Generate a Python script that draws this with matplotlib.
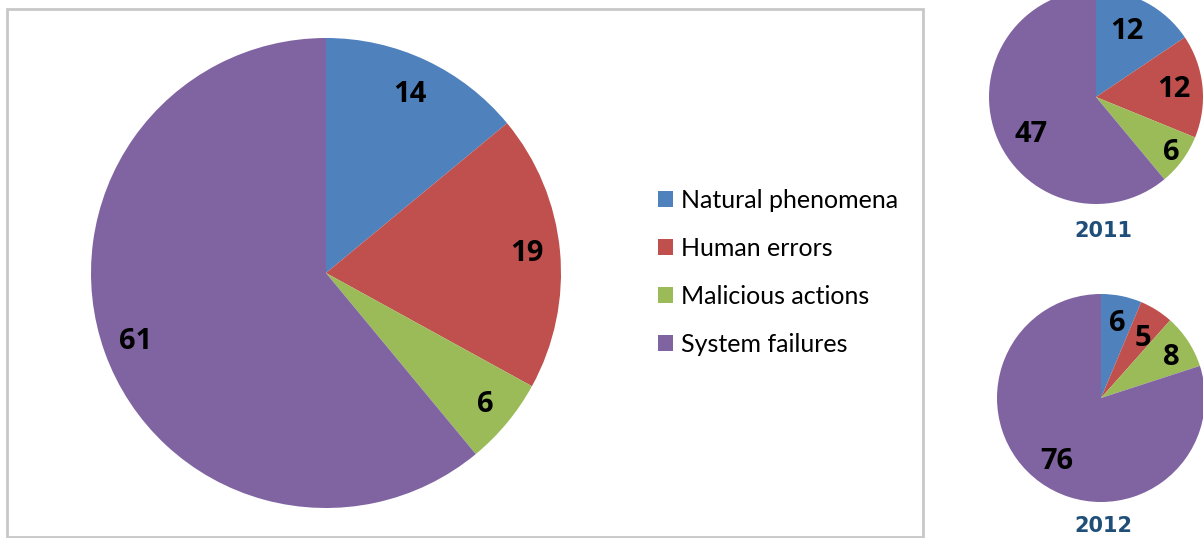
import numpy as np
import matplotlib
matplotlib.use('Agg')
import matplotlib.pyplot as plt
from matplotlib.patches import Rectangle

# データ
categories = ['Natural phenomena', 'Human errors', 'Malicious actions', 'System failures']
total_vals = [14, 19, 6, 61]
vals_2011 = [12, 12, 6, 47]
vals_2012 = [6, 5, 8, 76]
colors = ['#4F81BD', '#C0504D', '#9BBB59', '#8064A2']

W, H = 1203, 538
fig = plt.figure(figsize=(W / 100, H / 100), dpi=100)


def px_axes(cx, cy, r):
    # 画素座標(中心, 半径)からaxesを作る
    return fig.add_axes([(cx - r) / W, (H - cy - r) / H, 2 * r / W, 2 * r / H])


def draw_pie(ax, vals, dists, shifts=(0, 0, 0, 0), fs=21):
    wedges, _ = ax.pie(vals, colors=colors, startangle=90, counterclock=False,
                       radius=1, wedgeprops=dict(linewidth=0))
    # ラベル位置: 扇の中央角 + 補正角(度, 時計回り正)
    for w, v, d, s in zip(wedges, vals, dists, shifts):
        th = np.deg2rad((w.theta1 + w.theta2) / 2 - s)
        ax.text(d * np.cos(th), d * np.sin(th), str(v), ha='center', va='center',
                fontsize=fs, fontweight='bold', family='Open Sans', color='black')
    ax.set_xlim(-1, 1)
    ax.set_ylim(-1, 1)
    ax.axis('off')
    return wedges


# 枠線
fig.patches.append(Rectangle((7 / W, 1 - 537 / H), (923 - 7) / W, (537 - 9) / H,
                             transform=fig.transFigure, fill=False,
                             edgecolor='#C8C8C8', linewidth=2))

ax_main = px_axes(326, 273, 235)
wedges = draw_pie(ax_main, total_vals, [0.84, 0.86, 0.88, 0.86])

ax11 = px_axes(1096, 97, 107)
draw_pie(ax11, vals_2011, [0.68, 0.73, 0.87, 0.70], shifts=(-3, 0, 0, -10))
ax12 = px_axes(1101, 398, 104)
draw_pie(ax12, vals_2012, [0.73, 0.70, 0.78, 0.75], shifts=(1, 3, 3, -1))

fig.text(1103 / W, 1 - 231 / H, '2011', ha='center', va='center', fontsize=15,
         fontweight='bold', family='DejaVu Sans', color='#1F4E79')
fig.text(1103 / W, 1 - 526 / H, '2012', ha='center', va='center', fontsize=15,
         fontweight='bold', family='DejaVu Sans', color='#1F4E79')

fig.legend(wedges, categories, loc='center left', bbox_to_anchor=(645 / W, 1 - 272.5 / H),
           frameon=False, prop={'family': 'Lato', 'size': 18}, handlelength=0.6,
           handleheight=0.6, handletextpad=0.35, labelspacing=1.0, borderpad=0)

fig.savefig('out.png', dpi=100)
